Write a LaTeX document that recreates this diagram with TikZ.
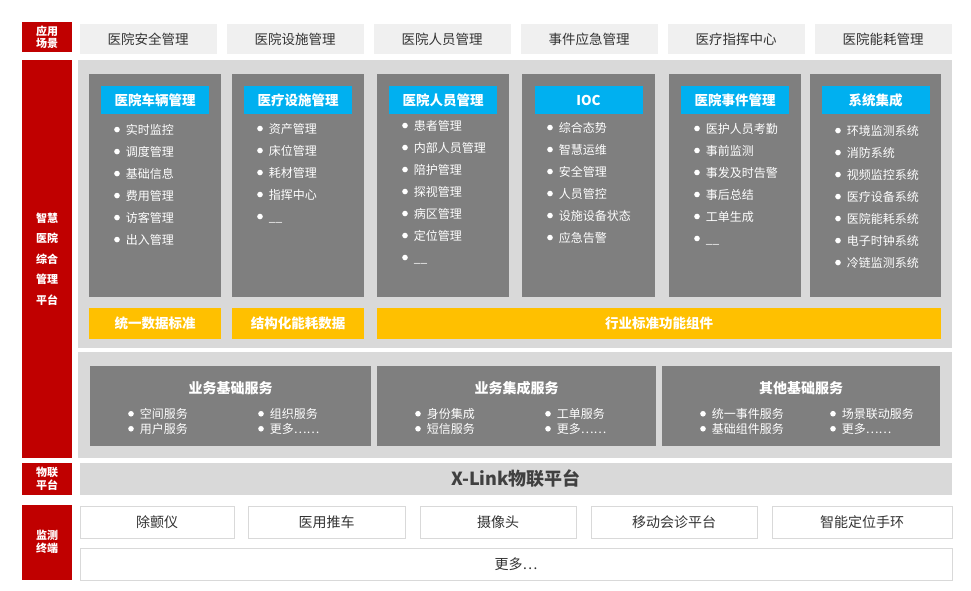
\documentclass[tikz,border=0pt]{standalone}
\usepackage{fontspec}
\setmainfont{Noto Sans CJK SC}
\usetikzlibrary{positioning}
\definecolor{hospred}{RGB}{192,0,0}
\definecolor{panelgray}{RGB}{217,217,217}
\definecolor{cardgray}{RGB}{127,127,127}
\definecolor{headblue}{RGB}{0,176,240}
\definecolor{baryellow}{RGB}{255,192,0}
\definecolor{scenegray}{RGB}{240,240,240}
\tikzset{
  redtag/.style={fill=hospred, text=white, font=\fontsize{11}{12.5}\selectfont\bfseries, align=center, inner sep=0pt},
  scenebox/.style={fill=scenegray, minimum width=137pt, minimum height=30pt, font=\fontsize{13.5}{15}\selectfont, text=black!80, inner sep=0pt},
  card/.style={fill=cardgray, anchor=north west, minimum height=223pt, inner sep=0pt},
  headbox/.style={fill=headblue, text=white, minimum width=108pt, minimum height=28pt, font=\fontsize{13.5}{15}\selectfont\bfseries, inner sep=0pt},
  itemlist/.style={text=white, anchor=north west, align=left, font=\fontsize{12}{22}\selectfont, inner sep=0pt},
  yellowbar/.style={fill=baryellow, text=white, minimum height=31pt, font=\fontsize{13.5}{15}\selectfont\bfseries, inner sep=0pt},
  svcbox/.style={fill=cardgray, anchor=north west, minimum height=80pt, inner sep=0pt},
  svcitem/.style={text=white, anchor=west, align=left, font=\fontsize{12}{15}\selectfont, inner sep=0pt},
  termbox/.style={fill=white, draw=panelgray, minimum height=32pt, font=\fontsize{14}{16}\selectfont, text=black!80, inner sep=0pt}
}
\newcommand{\bul}{\raisebox{2pt}{\tikz\fill[white] (0,0) circle (2.8pt);}\hspace{6pt}}
\begin{document}
\begin{tikzpicture}[x=1pt,y=-1pt]
  \useasboundingbox[fill=white] (0,0) rectangle (971,590);

  % left red tags
  \node[redtag, minimum width=50pt, minimum height=30pt] (tagscene) at (47,37) {应用\\场景};
  \node[redtag, minimum width=50pt, minimum height=398pt] (tagplat) at (47,259) {智慧\\[8pt]医院\\[8pt]综合\\[8pt]管理\\[8pt]平台};
  \node[redtag, minimum width=50pt, minimum height=32pt] (tagiot) at (47,479) {物联\\平台};
  \node[redtag, minimum width=50pt, minimum height=75pt] (tagterm) at (47,542) {监测\\终端};

  % scenario row
  \node[scenebox] (s1) at (148,39) {医院安全管理};
  \node[scenebox] (s2) at (295,39) {医院设施管理};
  \node[scenebox] (s3) at (442,39) {医院人员管理};
  \node[scenebox] (s4) at (589,39) {事件应急管理};
  \node[scenebox] (s5) at (736,39) {医疗指挥中心};
  \node[scenebox] (s6) at (883,39) {医院能耗管理};

  % platform panels
  \fill[panelgray] (78,60) rectangle (952,348);
  \fill[panelgray] (78,352) rectangle (952,458);

  % module cards
  \foreach \x/\w/\name/\head/\items/\dy in {
    89/132/car/医院车辆管理/{\bul 实时监控\\\bul 调度管理\\\bul 基础信息\\\bul 费用管理\\\bul 访客管理\\\bul 出入管理}/50,
    232/132/fac/医疗设施管理/{\bul 资产管理\\\bul 床位管理\\\bul 耗材管理\\\bul 指挥中心\\\bul \_\_}/49,
    377/132/staff/医院人员管理/{\bul 患者管理\\\bul 内部人员管理\\\bul 陪护管理\\\bul 探视管理\\\bul 病区管理\\\bul 定位管理\\\bul \_\_}/46,
    522/133/ioc/IOC/{\bul 综合态势\\\bul 智慧运维\\\bul 安全管理\\\bul 人员管控\\\bul 设施设备状态\\\bul 应急告警}/48,
    669/132/event/医院事件管理/{\bul 医护人员考勤\\\bul 事前监测\\\bul 事发及时告警\\\bul 事后总结\\\bul 工单生成\\\bul \_\_}/49,
    810/131/sys/系统集成/{\bul 环境监测系统\\\bul 消防系统\\\bul 视频监控系统\\\bul 医疗设备系统\\\bul 医院能耗系统\\\bul 电子时钟系统\\\bul 冷链监测系统}/51} {
    \node[card, minimum width=\w pt] (c\name) at (\x,74) {};
    \node[headbox] (h\name) at (\x+\w/2,100) {\head};
    \node[itemlist] (l\name) at (\x+25,\dy+74) {\items};
  }

  % yellow bars
  \node[yellowbar, minimum width=132pt] (y1) at (155,323) {统一数据标准};
  \node[yellowbar, minimum width=132pt] (y2) at (298,323) {结构化能耗数据};
  \node[yellowbar, minimum width=564pt] (y3) at (659,323) {行业标准功能组件};

  % service boxes
  \foreach \x/\w/\name/\head/\a/\b/\c/\d in {
    90/281/base/业务基础服务/空间服务/用户服务/组织服务/更多……,
    377/279/integ/业务集成服务/身份集成/短信服务/工单服务/更多……,
    662/278/other/其他基础服务/统一事件服务/基础组件服务/场景联动服务/更多……} {
    \node[svcbox, minimum width=\w pt] (v\name) at (\x,366) {};
    \node[text=white, font=\fontsize{14}{16}\selectfont\bfseries] (t\name) at (\x+\w/2,388) {\head};
    \node[svcitem] (a\name) at (\x+38,414) {\bul \a};
    \node[svcitem] (b\name) at (\x+38,429) {\bul \b};
    \node[svcitem] (c\name) at (\x+168,414) {\bul \c};
    \node[svcitem] (d\name) at (\x+168,429) {\bul \d};
  }

  % iot platform
  \node[fill=panelgray, minimum width=872pt, minimum height=32pt, font=\fontsize{18}{20}\selectfont\bfseries, text=black!75, inner sep=0pt] (xlink) at (516,479) {X-Link物联平台};

  % terminals
  \node[termbox, minimum width=154pt] (t1) at (157,522) {除颤仪};
  \node[termbox, minimum width=157pt] (t2) at (326.5,522) {医用推车};
  \node[termbox, minimum width=156pt] (t3) at (498,522) {摄像头};
  \node[termbox, minimum width=166pt] (t4) at (674,522) {移动会诊平台};
  \node[termbox, minimum width=180pt] (t5) at (862,522) {智能定位手环};
  \node[termbox, minimum width=872pt] (tmore) at (516,564) {更多…};
\end{tikzpicture}
\end{document}
